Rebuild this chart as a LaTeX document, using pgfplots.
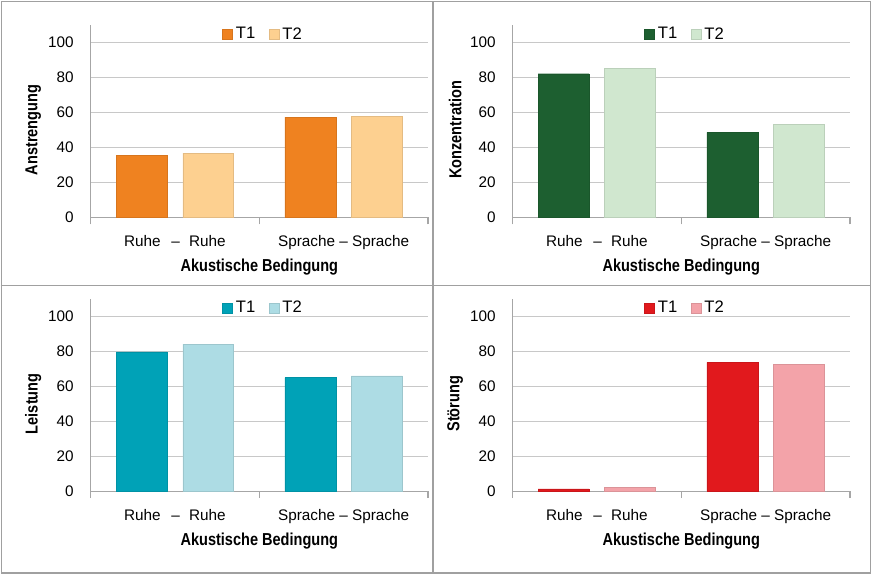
\documentclass[border=0pt]{standalone}
\usepackage{fontspec}
\setmainfont{Liberation Sans}
\newfontfamily\labfont[FakeStretch=0.84]{Liberation Sans}
\usepackage{pgfplots}
\pgfplotsset{compat=1.18}

\definecolor{orA}{HTML}{EF8220}
\definecolor{orB}{HTML}{FDD090}
\definecolor{grA}{HTML}{1D5F30}
\definecolor{grB}{HTML}{D0E7CF}
\definecolor{tlA}{HTML}{00A2B7}
\definecolor{tlB}{HTML}{ADDCE4}
\definecolor{rdA}{HTML}{E1191D}
\definecolor{rdB}{HTML}{F3A3A9}
\definecolor{axgray}{HTML}{A6A6A6}
\definecolor{gridgray}{HTML}{C8C8C8}
\definecolor{framegray}{HTML}{A0A0A0}

\pgfplotsset{
  panel/.style={
    width=253.5pt, height=144.4pt, scale only axis,
    xmin=-0.5, xmax=1.5, ymin=0, ymax=110,
    xtick={0,1}, minor xtick={-0.5,0.5,1.5},
    ytick={0,20,40,60,80,100},
    major tick length=0pt, minor tick length=5.25pt, tick align=outside,
    axis x line*=bottom, axis y line*=left,
    axis line style={draw=axgray, line width=0.8pt, -},
    minor tick style={draw=axgray, line width=0.8pt},
    ymajorgrids, grid style={draw=gridgray, line width=0.6pt},
    /pgf/number format/assume math mode=true,
    yticklabel style={anchor=east, inner sep=0pt, xshift=-12.5pt, font=\fontsize{11.5}{13}\selectfont},
    xticklabel style={anchor=base, inner sep=0pt, yshift=-21.75pt, font=\fontsize{11.5}{13}\selectfont},
    xticklabels={{Ruhe\hspace{8pt}–\hspace{7pt}Ruhe},{Sprache – Sprache}},
    xlabel={Akustische Bedingung},
    xlabel style={at={(axis description cs:0.5,0)}, anchor=base, yshift=-40.5pt,
      font=\labfont\bfseries\fontsize{13}{15}\selectfont},
    ylabel style={at={(axis description cs:-0.17,0.455)}, anchor=center,
      font=\labfont\bfseries\fontsize{13}{15}\selectfont},
    legend columns=2,
    legend style={draw=none, fill=none, at={(axis description cs:0.51,1)},
      anchor=center, yshift=-6.8pt, font=\fontsize{12.5}{14}\selectfont,
      nodes={inner xsep=1pt},
      /tikz/every even column/.append style={column sep=9pt}},
    legend image code/.code={\fill[##1] (0pt,-3.75pt) rectangle (7.5pt,3.75pt);
      \path (9pt,0pt);},
  },
  barA/.style={ybar, bar width=38.25pt, bar shift=-25pt, fill=#1, draw=#1!90!black, line width=0.35pt},
  barB/.style={ybar, bar width=38.25pt, bar shift=25pt, fill=#1, draw=#1!90!black, line width=0.35pt},
}

\begin{document}
\begin{tikzpicture}
\path (0,0) rectangle (654pt,430.5pt);

% top left
\begin{axis}[panel, at={(67.5pt,267.75pt)}, anchor=south west, ylabel={Anstrengung}]
\addplot[barA=orA] coordinates {(0,35.4) (1,57.3)};
\addplot[barB=orB] coordinates {(0,36.8) (1,57.9)};
\legend{T1,T2}
\end{axis}

% top right
\begin{axis}[panel, at={(384.5pt,267.75pt)}, anchor=south west, ylabel={Konzentration}]
\addplot[barA=grA] coordinates {(0,82.2) (1,48.7)};
\addplot[barB=grB] coordinates {(0,85.1) (1,53.2)};
\legend{T1,T2}
\end{axis}

% bottom left
\begin{axis}[panel, at={(67.5pt,62.0pt)}, anchor=south west, ylabel={Leistung}]
\addplot[barA=tlA] coordinates {(0,79.7) (1,65.0)};
\addplot[barB=tlB] coordinates {(0,84.2) (1,66.0)};
\legend{T1,T2}
\end{axis}

% bottom right
\begin{axis}[panel, at={(384.5pt,62.0pt)}, anchor=south west, ylabel={Störung}]
\addplot[barA=rdA] coordinates {(0,1.3) (1,73.8)};
\addplot[barB=rdB] coordinates {(0,2.3) (1,72.6)};
\legend{T1,T2}
\end{axis}

% frame and dividers
\draw[framegray, line width=1.1pt] (0.75pt,0.75pt) rectangle (653.25pt,429.75pt);
\draw[framegray, line width=1.1pt] (324.75pt,0pt) -- (324.75pt,430.5pt);
\draw[framegray, line width=1.1pt] (0pt,216.75pt) -- (654pt,216.75pt);
\end{tikzpicture}
\end{document}
